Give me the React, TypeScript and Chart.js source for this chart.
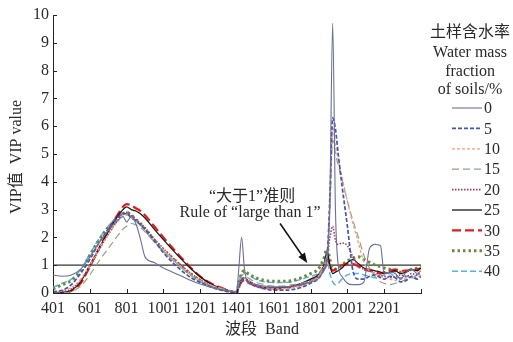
import React, { useEffect, useRef } from "react";
import { Chart, registerables } from "chart.js";

Chart.register(...registerables);

// ---------- data ----------
const bands = [
  401, 451, 501, 551, 601, 651, 701, 751, 781, 801, 826, 851, 876, 901, 951,
  1001, 1051, 1101, 1151, 1201, 1251, 1301, 1351, 1391, 1401, 1411, 1426, 1441,
  1461, 1501, 1551, 1601, 1651, 1701, 1751, 1801, 1841, 1871, 1891, 1906, 1921,
  1936, 1951, 1971, 2001, 2031, 2061, 2091, 2121, 2151, 2181, 2201, 2231, 2261,
  2291, 2321, 2351, 2381, 2400,
];

const vip0 = [
  0.65, 0.6, 0.65, 0.85, 1.3, 1.8, 2.25, 2.6, 2.75, 2.55, 2.75, 2.5, 1.95, 1.3, 1.1,
  0.9, 0.75, 0.6, 0.45, 0.32, 0.22, 0.14, 0.08, 0.05, 0.15, 0.9, 2.0, 0.9,
  0.35, 0.3, 0.25, 0.22, 0.22, 0.25, 0.3, 0.4, 0.5, 0.8, 1.2, 3.5, 9.7,
  3.0, 1.0, 0.6, 0.35, 0.3, 0.3, 0.4, 1.6, 1.75, 1.7, 0.7, 0.75, 0.7,
  0.5, 0.75, 0.85, 0.7, 0.8,
];
const vip5 = [
  0.05, 0.1, 0.3, 0.7, 1.2, 1.8, 2.3, 2.7, 2.85, 2.85, 2.7, 2.6, 2.45, 2.3, 1.9,
  1.45, 1.1, 0.8, 0.55, 0.38, 0.24, 0.13, 0.05, 0.02, 0.02, 0.2, 0.45, 0.5,
  0.4, 0.25, 0.15, 0.1, 0.1, 0.12, 0.2, 0.35, 0.5, 0.8, 1.3, 3.5, 6.3,
  5.9, 5.0, 3.9, 2.4, 0.8, 0.5, 0.5, 0.6, 0.65, 0.55, 0.5, 0.6, 0.55,
  0.4, 0.45, 0.6, 0.5, 0.6,
];
const vip10 = [
  0.05, 0.08, 0.2, 0.5, 1.0, 1.6, 2.1, 2.55, 2.75, 2.8, 2.7, 2.6, 2.45, 2.25, 1.9,
  1.55, 1.22, 0.92, 0.66, 0.45, 0.3, 0.18, 0.08, 0.03, 0.03, 0.2, 0.45, 0.55,
  0.45, 0.3, 0.2, 0.15, 0.15, 0.2, 0.25, 0.4, 0.55, 0.9, 1.3, 3.0, 6.0,
  5.3, 4.8, 4.2, 3.3, 2.5, 1.8, 1.1, 0.8, 0.7, 0.6, 0.55, 0.5, 0.45,
  0.5, 0.55, 0.6, 0.55, 0.65,
];
const vip15 = [
  0.0, 0.0, 0.05, 0.25, 0.65, 1.15, 1.6, 2.05, 2.3, 2.4, 2.5, 2.45, 2.35, 2.2, 1.85,
  1.5, 1.2, 0.9, 0.65, 0.45, 0.3, 0.2, 0.1, 0.05, 0.05, 0.3, 0.6, 0.7,
  0.55, 0.4, 0.3, 0.25, 0.25, 0.3, 0.35, 0.45, 0.6, 1.0, 1.5, 3.0, 5.5,
  5.0, 4.6, 4.1, 3.3, 2.6, 2.0, 1.35, 0.9, 0.6, 0.4, 0.35, 0.3, 0.35,
  0.4, 0.5, 0.55, 0.5, 0.6,
];
const vip20 = [
  0.02, 0.05, 0.15, 0.45, 0.95, 1.55, 2.1, 2.6, 2.85, 2.9, 2.8, 2.65, 2.5, 2.35, 1.95,
  1.6, 1.28, 0.97, 0.7, 0.48, 0.3, 0.18, 0.1, 0.04, 0.04, 0.25, 0.5, 0.55,
  0.45, 0.3, 0.22, 0.18, 0.18, 0.22, 0.3, 0.45, 0.6, 0.9, 1.3, 2.0, 2.4,
  1.9, 1.75, 1.8, 1.7, 1.3, 1.0, 0.85, 0.8, 0.7, 0.6, 0.6, 0.55, 0.6,
  0.65, 0.6, 0.7, 0.65, 0.75,
];
const vip25 = [
  0.0, 0.02, 0.1, 0.4, 1.0, 1.6, 2.2, 2.75, 3.0, 3.1, 3.0, 2.95, 2.85, 2.7, 2.3,
  1.92, 1.55, 1.2, 0.87, 0.58, 0.36, 0.2, 0.09, 0.03, 0.03, 0.25, 0.5, 0.55,
  0.45, 0.3, 0.2, 0.18, 0.2, 0.25, 0.35, 0.5, 0.65, 0.95, 1.5, 1.0, 0.7,
  0.75, 0.8, 0.9, 1.1, 1.2, 1.05, 0.9, 0.85, 0.8, 0.75, 0.7, 0.75, 0.8,
  0.7, 0.75, 0.85, 0.8, 0.9,
];
const vip30 = [
  0.0, 0.0, 0.08, 0.35, 0.95, 1.6, 2.25, 2.8, 3.1, 3.2, 3.15, 3.05, 2.95, 2.8, 2.4,
  2.0, 1.62, 1.25, 0.9, 0.6, 0.38, 0.22, 0.1, 0.03, 0.03, 0.2, 0.4, 0.45,
  0.38, 0.25, 0.18, 0.15, 0.18, 0.22, 0.3, 0.45, 0.6, 0.85, 1.25, 1.0, 0.8,
  0.85, 0.95, 1.0, 1.05, 1.05, 0.95, 0.85, 0.8, 0.75, 0.7, 0.75, 0.8, 0.85,
  0.8, 0.8, 0.85, 0.85, 0.9,
];
const vip35 = [
  0.15, 0.3, 0.45, 0.8, 1.35, 1.9, 2.35, 2.7, 2.85, 2.9, 2.8, 2.65, 2.5, 2.3, 1.9,
  1.55, 1.25, 0.95, 0.68, 0.45, 0.28, 0.15, 0.07, 0.03, 0.03, 0.35, 0.7, 0.8,
  0.7, 0.55, 0.45, 0.42, 0.42, 0.45, 0.55, 0.7, 0.85, 1.2, 1.6, 1.2, 0.9,
  0.85, 0.9, 1.0, 1.15, 1.25, 1.3, 1.2, 1.1, 1.0, 0.95, 0.9, 0.85, 0.8,
  0.75, 0.8, 0.85, 0.9, 1.0,
];
const vip40 = [
  0.2, 0.35, 0.5, 0.85, 1.4, 1.95, 2.4, 2.75, 2.9, 2.85, 2.75, 2.6, 2.45, 2.25, 1.85,
  1.5, 1.2, 0.9, 0.63, 0.42, 0.25, 0.14, 0.06, 0.02, 0.02, 0.35, 0.7, 0.75,
  0.65, 0.5, 0.4, 0.38, 0.38, 0.4, 0.5, 0.6, 0.7, 0.95, 1.2, 0.7, 0.4,
  0.3, 0.35, 0.5, 0.65, 0.7, 0.7, 0.65, 0.6, 0.55, 0.6, 0.65, 0.7, 0.6,
  0.55, 0.6, 0.55, 0.65, 0.7,
];

const seriesValues = [vip0, vip5, vip10, vip15, vip20, vip25, vip30, vip35, vip40];
const seriesLabels = ["0", "5", "10", "15", "20", "25", "30", "35", "40"];

const xTicks = [401, 601, 801, 1001, 1201, 1401, 1601, 1801, 2001, 2201, 2401];
const xLabelled = [401, 601, 801, 1001, 1201, 1401, 1601, 1801, 2001, 2201];
const yTicks = [0, 1, 2, 3, 4, 5, 6, 7, 8, 9, 10];
const threshold = 1;

const legendTitle = ["土样含水率", "Water mass", "fraction", "of soils/%"];
const xTitle = "波段  Band";
const yTitle = "VIP值  VIP value";
const ruleLines = ["“大于1”准则", "Rule of “large than 1”"];
// annotation anchor points in data units (band, VIP)
const ruleTextPos = [
  { x: 1483, y: 3.45 },
  { x: 1472, y: 2.9 },
];
const arrowFrom = { x: 1635, y: 2.5 };
const arrowTo = { x: 1783, y: 1.08 };

// ---------- styles ----------
const SERIF = '"Liberation Serif", "Noto Sans CJK SC", serif';
const TEXT = "#2a2a2a";
const seriesStyles = [
  { color: "#6b6f9c", width: 1.1, dash: [] as number[] },
  { color: "#4257b0", width: 1.7, dash: [4, 2] },
  { color: "#f2a07c", width: 1.3, dash: [3, 2] },
  { color: "#8fa385", width: 1.2, dash: [7, 4] },
  { color: "#a23c5c", width: 1.6, dash: [1.5, 1.5] },
  { color: "#1a1a1a", width: 1.3, dash: [] as number[] },
  { color: "#e8191c", width: 2.2, dash: [9, 4] },
  { color: "#6a8c3c", width: 3, dash: [2.5, 3] },
  { color: "#55b3e3", width: 1.5, dash: [6, 3] },
];

const decorPlugin = {
  id: "decor",
  afterDraw(chart: any) {
    const { ctx, chartArea, scales } = chart;
    const xs = scales.x;
    const ys = scales.y;
    ctx.save();
    // inward tick marks
    ctx.strokeStyle = "#222";
    ctx.lineWidth = 1;
    ctx.setLineDash([]);
    ctx.beginPath();
    for (const v of xTicks) {
      const px = Math.round(xs.getPixelForValue(v)) + 0.5;
      ctx.moveTo(px, chartArea.bottom);
      ctx.lineTo(px, chartArea.bottom - 4);
    }
    for (const v of yTicks) {
      const py = Math.round(ys.getPixelForValue(v)) + 0.5;
      ctx.moveTo(chartArea.left, py);
      ctx.lineTo(chartArea.left + 4, py);
    }
    ctx.stroke();

    // axis titles
    ctx.fillStyle = TEXT;
    ctx.font = `16px ${SERIF}`;
    ctx.textAlign = "center";
    ctx.textBaseline = "middle";
    ctx.fillText(xTitle, 262, 330);
    ctx.save();
    ctx.translate(17, 157);
    ctx.rotate(-Math.PI / 2);
    ctx.fillText(yTitle, 0, 0);
    ctx.restore();

    // annotation
    ruleLines.forEach((t, i) => {
      const p = ruleTextPos[i];
      ctx.fillText(t, xs.getPixelForValue(p.x), ys.getPixelForValue(p.y));
    });
    const x1 = xs.getPixelForValue(arrowFrom.x);
    const y1 = ys.getPixelForValue(arrowFrom.y);
    const x2 = xs.getPixelForValue(arrowTo.x);
    const y2 = ys.getPixelForValue(arrowTo.y);
    const ang = Math.atan2(y2 - y1, x2 - x1);
    ctx.strokeStyle = "#111";
    ctx.lineWidth = 1.5;
    ctx.beginPath();
    ctx.moveTo(x1, y1);
    ctx.lineTo(x2 - 6 * Math.cos(ang), y2 - 6 * Math.sin(ang));
    ctx.stroke();
    ctx.fillStyle = "#111";
    ctx.beginPath();
    ctx.moveTo(x2, y2);
    ctx.lineTo(x2 - 10 * Math.cos(ang) + 4 * Math.sin(ang), y2 - 10 * Math.sin(ang) - 4 * Math.cos(ang));
    ctx.lineTo(x2 - 10 * Math.cos(ang) - 4 * Math.sin(ang), y2 - 10 * Math.sin(ang) + 4 * Math.cos(ang));
    ctx.closePath();
    ctx.fill();

    // legend
    ctx.fillStyle = TEXT;
    ctx.font = `16px ${SERIF}`;
    ctx.textAlign = "center";
    const titleY = [33, 53, 72, 90];
    legendTitle.forEach((t, i) => ctx.fillText(t, 470, titleY[i]));
    ctx.textAlign = "left";
    seriesLabels.forEach((lab, i) => {
      const y = 108 + i * 20.4;
      const st = seriesStyles[i];
      ctx.strokeStyle = st.color;
      ctx.lineWidth = st.width;
      ctx.setLineDash(st.dash);
      ctx.beginPath();
      ctx.moveTo(452, y);
      ctx.lineTo(482, y);
      ctx.stroke();
      ctx.setLineDash([]);
      ctx.fillStyle = TEXT;
      ctx.fillText(lab, 484, y + 1);
    });
    ctx.restore();
  },
};

export default function App() {
  const ref = useRef<HTMLCanvasElement | null>(null);
  useEffect(() => {
    if (!ref.current) return;
    const datasets: any[] = seriesValues.map((vals, i) => ({
      label: seriesLabels[i],
      data: bands.map((b, j) => ({ x: b, y: vals[j] })),
      borderColor: seriesStyles[i].color,
      borderWidth: seriesStyles[i].width,
      borderDash: seriesStyles[i].dash,
      pointRadius: 0,
      cubicInterpolationMode: "monotone",
      fill: false,
    }));
    datasets.push({
      label: "threshold",
      data: [
        { x: xTicks[0], y: threshold },
        { x: xTicks[xTicks.length - 1], y: threshold },
      ],
      borderColor: "#333",
      borderWidth: 1.2,
      pointRadius: 0,
      fill: false,
    });
    const chart = new Chart(ref.current, {
      type: "line",
      data: { datasets },
      plugins: [decorPlugin],
      options: {
        animation: false,
        responsive: true,
        maintainAspectRatio: false,
        layout: { padding: { top: 15, right: 92, left: 0, bottom: 0 } },
        plugins: { legend: { display: false }, tooltip: { enabled: false } },
        scales: {
          x: {
            type: "linear",
            min: 401,
            max: 2401,
            afterBuildTicks: (s: any) => {
              s.ticks = xTicks.map((v) => ({ value: v }));
            },
            afterFit: (s: any) => {
              s.height = 49;
            },
            ticks: {
              autoSkip: false,
              maxRotation: 0,
              padding: 6,
              color: TEXT,
              font: { family: SERIF, size: 16 },
              callback: (v: any) => (xLabelled.includes(v) ? String(v) : ""),
            },
            grid: { display: true, drawOnChartArea: false, drawTicks: false },
            border: { display: true, color: "#222", width: 1 },
          },
          y: {
            type: "linear",
            min: 0,
            max: 10,
            afterBuildTicks: (s: any) => {
              s.ticks = yTicks.map((v) => ({ value: v }));
            },
            afterFit: (s: any) => {
              s.width = 53;
            },
            ticks: {
              padding: 4,
              color: TEXT,
              font: { family: SERIF, size: 16 },
            },
            grid: { display: true, drawOnChartArea: false, drawTicks: false },
            border: { display: true, color: "#222", width: 1 },
          },
        },
      },
    });
    return () => chart.destroy();
  }, []);
  return (
    <div style={{ position: "absolute", left: 0, top: 0, width: 513, height: 342, background: "#fff" }}>
      <canvas ref={ref} />
    </div>
  );
}
